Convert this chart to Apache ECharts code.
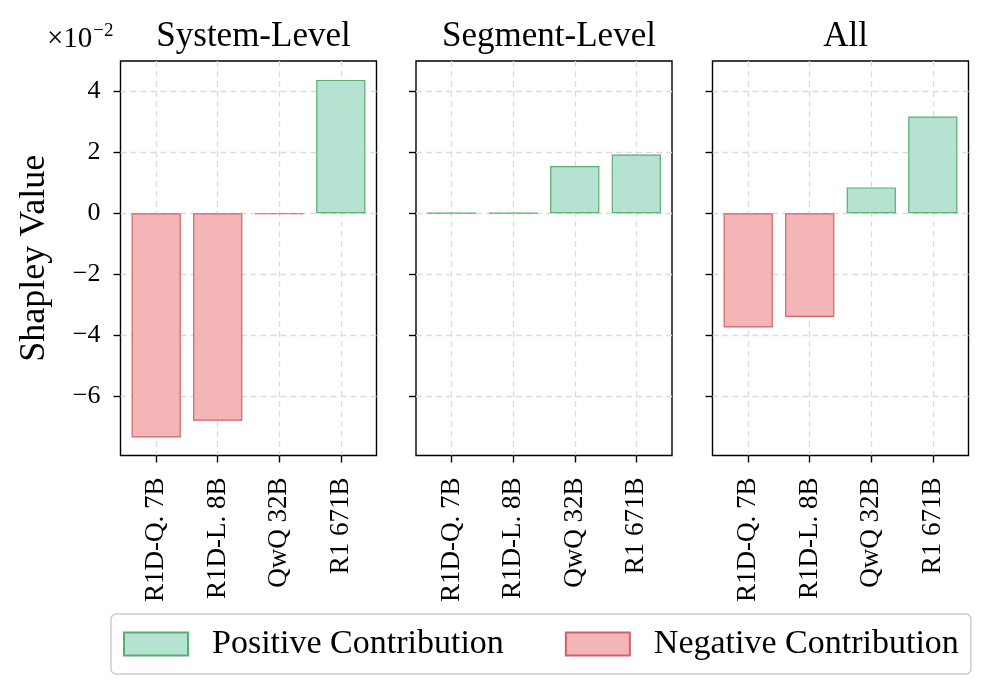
<!DOCTYPE html>
<html>
<head>
<meta charset="utf-8">
<script src="https://cdn.jsdelivr.net/npm/echarts@6/dist/echarts.min.js"></script>
<style>
html,body{margin:0;padding:0;background:#fff;}
#chart{width:996px;height:691px;}
</style>
</head>
<body>
<div id="chart"></div>
<script>
// ---- data ----
const categories = ['R1D-Q. 7B', 'R1D-L. 8B', 'QwQ 32B', 'R1 671B'];
const panelTitles = ['System-Level', 'Segment-Level', 'All'];
const systemLevel = [-7.36, -6.81, -0.03, 4.38];
const segmentLevel = [0.01, 0.01, 1.55, 1.93];
const allLevel = [-3.75, -3.40, 0.85, 3.18];
const yTicks = [-6, -4, -2, 0, 2, 4];
const legendNames = ['Positive Contribution', 'Negative Contribution'];

const panels = [systemLevel, segmentLevel, allLevel];

const FONT = 'Liberation Serif';
const posFill = '#b5e2d1', posEdge = '#5aae70';
const negFill = '#f4b5b7', negEdge = '#d0626a';

const gridLefts = [120.5, 416, 712.5];
const gridW = 256, gridTop = 61, gridH = 394.5;
const xMin = -0.58, xMax = 3.58;
const yMin = -7.95, yMax = 5.0;
const barW = 0.8 * gridW / (xMax - xMin);

const grids = [], xAxes = [], yAxes = [], series = [], titles = [];
panels.forEach((vals, p) => {
  grids.push({left: gridLefts[p], top: gridTop, width: gridW, height: gridH,
    show: true, borderColor: '#000', borderWidth: 1.4, backgroundColor: 'transparent'});
  xAxes.push({
    type: 'value', gridIndex: p, min: xMin, max: xMax,
    axisLine: {show: false, onZero: false},
    axisTick: {show: true, customValues: [0, 1, 2, 3], length: 7, lineStyle: {color: '#000', width: 1.4}},
    axisLabel: {show: true, customValues: [0, 1, 2, 3], rotate: 90, margin: 22,
      formatter: v => categories[Math.round(v)], fontFamily: FONT, fontSize: 27, color: '#000'},
    splitLine: {show: true, lineStyle: {color: '#dcdcdc', type: [6, 4], width: 1.3}}
  });
  yAxes.push({
    type: 'value', gridIndex: p, min: yMin, max: yMax,
    axisLine: {show: false, onZero: false},
    axisTick: {show: true, customValues: yTicks, length: 7, lineStyle: {color: '#000', width: 1.4}},
    axisLabel: {show: p === 0, customValues: yTicks, margin: 20,
      formatter: v => (v < 0 ? '\u2212' + Math.abs(v) : String(v)),
      fontFamily: FONT, fontSize: 26, color: '#000'},
    splitLine: {show: true, lineStyle: {color: '#dcdcdc', type: [6, 4], width: 1.3}},
    name: p === 0 ? 'Shapley Value' : '',
    nameLocation: 'middle', nameGap: 68, nameRotate: 90,
    nameTextStyle: {fontFamily: FONT, fontSize: 36, color: '#000'}
  });
  series.push({
    name: legendNames[0], type: 'bar', xAxisIndex: p, yAxisIndex: p,
    barWidth: barW, barGap: '-100%',
    itemStyle: {color: posFill, borderColor: posEdge, borderWidth: 1.2},
    data: vals.map((v, i) => [i, v >= 0 ? v : '-']),
    animation: false
  });
  series.push({
    name: legendNames[1], type: 'bar', xAxisIndex: p, yAxisIndex: p,
    barWidth: barW, barGap: '-100%',
    itemStyle: {color: negFill, borderColor: negEdge, borderWidth: 1.2},
    data: vals.map((v, i) => [i, v < 0 ? v : '-']),
    animation: false
  });
  titles.push({
    text: panelTitles[p], left: gridLefts[p] + gridW / 2, top: 14, textAlign: 'center',
    textStyle: {fontFamily: FONT, fontSize: 35, fontWeight: 'normal', color: '#000'}
  });
});

titles.push({
  text: '{a|\u00d710}{b|\u22122}', left: 42, top: 17,
  textStyle: {fontWeight: 'normal', rich: {
    a: {fontFamily: FONT, fontSize: 29, fontWeight: 'normal', color: '#000', verticalAlign: 'bottom'},
    b: {fontFamily: FONT, fontSize: 19, fontWeight: 'normal', color: '#000', verticalAlign: 'top', padding: [0, 0, 13, 1]}
  }}
});

const chart = echarts.init(document.getElementById('chart'), null, {renderer: 'canvas'});
chart.setOption({
  animation: false,
  backgroundColor: '#fff',
  title: titles,
  grid: grids,
  xAxis: xAxes,
  yAxis: yAxes,
  legend: {
    data: legendNames.map(n => ({name: n, icon: 'rect'})), left: 111, top: 614,
    orient: 'horizontal', itemWidth: 64, itemHeight: 23, itemGap: 61,
    padding: [13, 12, 13, 12],
    borderColor: '#cccccc', borderWidth: 1.5, borderRadius: 5,
    textStyle: {fontFamily: FONT, fontSize: 34, color: '#000', padding: [0, 0, 0, 19]},
    selectedMode: false
  },
  series: series
});
</script>
</body>
</html>
